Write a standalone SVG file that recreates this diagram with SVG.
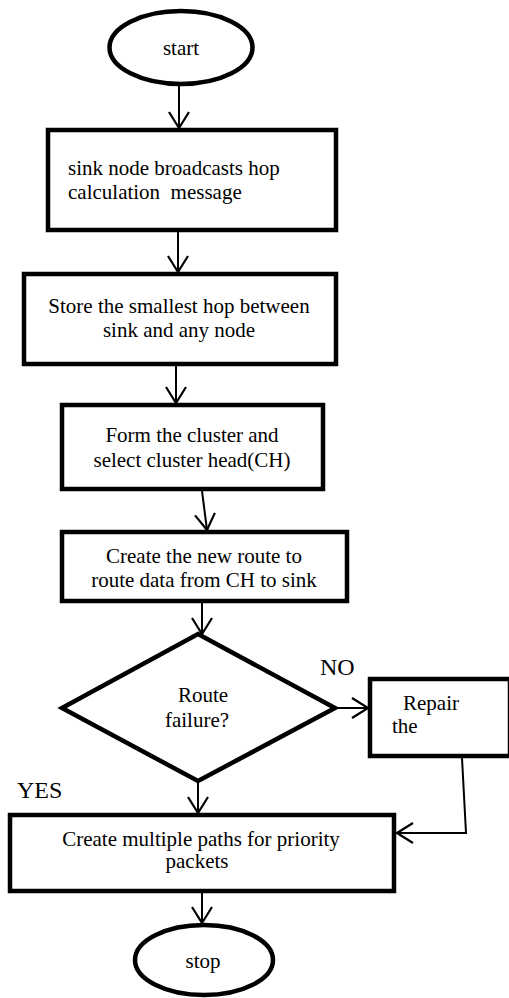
<svg xmlns="http://www.w3.org/2000/svg" width="509" height="998" viewBox="0 0 509 998">
<defs>
<style>
.n{fill:#fff;stroke:#000;stroke-width:4.5}
.t{font-family:"Liberation Serif","Times New Roman",serif;font-size:21px;fill:#000}
.c{text-anchor:middle}
.e{fill:none;stroke:#000;stroke-width:2}
.lbl{font-family:"Liberation Serif","Times New Roman",serif;font-size:24px;fill:#000}
</style>
<marker id="ah" viewBox="0 0 18 22" refX="17" refY="11" markerWidth="18" markerHeight="22" markerUnits="userSpaceOnUse" orient="auto">
<path d="M1,1 L17,11 L1,21" fill="none" stroke="#000" stroke-width="2.2"/>
</marker>
</defs>
<rect width="509" height="998" fill="#fff"/>
<g id="connectors">
<line class="e" x1="179" y1="86" x2="179" y2="128" marker-end="url(#ah)"/>
<line class="e" x1="178" y1="232" x2="178" y2="272" marker-end="url(#ah)"/>
<line class="e" x1="176" y1="366" x2="176" y2="403" marker-end="url(#ah)"/>
<line class="e" x1="202" y1="491" x2="207" y2="530" marker-end="url(#ah)"/>
<line class="e" x1="202" y1="603" x2="202" y2="634" marker-end="url(#ah)"/>
<line class="e" x1="337" y1="708" x2="368" y2="708" marker-end="url(#ah)"/>
<line class="e" x1="198" y1="783" x2="198" y2="813" marker-end="url(#ah)"/>
<polyline class="e" points="462,758 466,833 397,833" marker-end="url(#ah)"/>
<line class="e" x1="202" y1="893" x2="202" y2="923" marker-end="url(#ah)"/>
</g>
<g id="start">
<ellipse class="n" cx="181" cy="47.5" rx="71.5" ry="36.5"/>
<text class="t c" x="181" y="55">start</text>
</g>
<g id="broadcast">
<rect class="n" x="48" y="130" width="288" height="100"/>
<text class="t" x="68" y="175">sink node broadcasts hop</text>
<text class="t" x="68" y="199" xml:space="preserve">calculation  message</text>
</g>
<g id="store">
<rect class="n" x="24" y="274" width="312" height="90"/>
<text class="t c" x="179" y="313">Store the smallest hop between</text>
<text class="t c" x="179" y="337">sink and any node</text>
</g>
<g id="cluster">
<rect class="n" x="62" y="405" width="261" height="84"/>
<text class="t c" x="192" y="442">Form the cluster and</text>
<text class="t c" x="192" y="467">select cluster head(CH)</text>
</g>
<g id="route">
<rect class="n" x="62" y="532" width="285" height="69"/>
<text class="t c" x="204" y="563">Create the new route to</text>
<text class="t c" x="204" y="587">route data from CH to sink</text>
</g>
<g id="decision">
<polygon class="n" points="198,634 335,708 198,781 62,708"/>
<text class="t c" x="203" y="702">Route</text>
<text class="t c" x="197" y="727">failure?</text>
</g>
<text class="lbl" x="320" y="675">NO</text>
<text class="lbl" x="17" y="798">YES</text>
<g id="repair">
<rect class="n" x="370" y="679" width="140" height="77"/>
<text class="t" x="403" y="710">Repair</text>
<text class="t" x="392" y="733">the</text>
</g>
<g id="multipath">
<rect class="n" x="10" y="815" width="384" height="76"/>
<text class="t c" x="201" y="846">Create multiple paths for priority</text>
<text class="t c" x="197" y="868">packets</text>
</g>
<g id="stop">
<ellipse class="n" cx="204" cy="960" rx="69" ry="35"/>
<text class="t c" x="203" y="968">stop</text>
</g>
</svg>
